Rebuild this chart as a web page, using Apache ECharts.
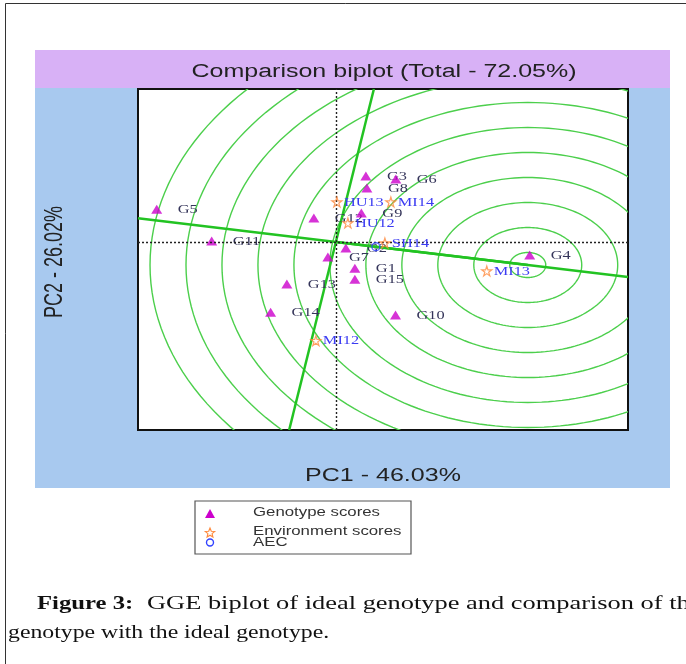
<!DOCTYPE html>
<html>
<head>
<meta charset="utf-8">
<script src="https://cdn.jsdelivr.net/npm/echarts@6/dist/echarts.min.js"></script>
<style>
  html, body { margin: 0; padding: 0; background: #ffffff; }
  #chart { width: 686px; height: 664px; }
</style>
</head>
<body>
<div id="chart"></div>
<script>
// Genotype scores on the first two principal components
const genotypeNames = ['G1', 'G2', 'G3', 'G4', 'G5', 'G6', 'G7', 'G8', 'G9', 'G10', 'G11', 'G12', 'G13', 'G14', 'G15'];
const genotypePC1 = [0.264, 0.139, 0.417, 2.694, -2.490, 0.833, -0.111, 0.431, 0.354, 0.829, -1.726, -0.306, -0.681, -0.907, 0.264];
const genotypePC2 = [-0.526, -0.120, 1.320, -0.260, 0.654, 1.260, -0.300, 1.080, 0.580, -1.460, 0.020, 0.480, -0.840, -1.406, -0.746];

// Environment scores
const environmentNames = ['HU12', 'HU13', 'MI12', 'MI13', 'MI14', 'SH14'];
const environmentPC1 = [0.167, 0.014, -0.278, 2.097, 0.764, 0.681];
const environmentPC2 = [0.380, 0.800, -1.974, -0.580, 0.800, -0.020];

// Average environment coordinate and the ideal genotype on its axis
const aecPoint = [0.556, -0.096];
const idealGenotype = [2.667, -0.460];

// Concentric distance rings around the ideal genotype
const ringRadii = [0.25, 0.75, 1.25, 1.75, 2.25, 2.75, 3.25, 3.75, 4.25, 4.75, 5.25];

// Visible window of the biplot
const pc1Range = [-2.75, 4.06];
const pc2Range = [-3.76, 3.06];

const GREEN_RING = '#4ccf4c';
const GREEN_AXIS = '#22c322';
const MAGENTA = '#cc00cc';
const ORANGE = '#ff8a3d';
const ENV_BLUE = '#3b3bf2';
const GEN_TEXT = '#35355a';
const STAR_PATH = 'path://M50 0 L61.2 34.5 L97.6 34.5 L68.2 55.9 L79.4 90.5 L50 69.1 L20.6 90.5 L31.8 55.9 L2.4 34.5 L38.8 34.5 Z';

// AEC abscissa (through the origin and the AEC point) and its perpendicular
const aecSlope = aecPoint[1] / aecPoint[0];
const abscissaLine = [
  [pc1Range[0], pc1Range[0] * aecSlope],
  [pc1Range[1], pc1Range[1] * aecSlope]
];
const ordinateLine = [
  [-pc2Range[0] * aecSlope, pc2Range[0]],
  [-pc2Range[1] * aecSlope, pc2Range[1]]
];

const ringData = ringRadii.map(r => [idealGenotype[0], idealGenotype[1], r]);
const genotypeData = genotypeNames.map((n, i) => [genotypePC1[i], genotypePC2[i]]);
const environmentData = environmentNames.map((n, i) => [environmentPC1[i], environmentPC2[i]]);

function renderRing(params, api) {
  const cx = api.value(0), cy = api.value(1), r = api.value(2);
  const pts = [];
  for (let a = 0; a <= 360; a += 2) {
    const t = a * Math.PI / 180;
    pts.push(api.coord([cx + r * Math.cos(t), cy + r * Math.sin(t)]));
  }
  const cs = params.coordSys;
  return {
    type: 'polyline',
    shape: { points: pts },
    style: { stroke: GREEN_RING, lineWidth: 1.4, fill: null },
    clipPath: { type: 'rect', shape: { x: cs.x, y: cs.y, width: cs.width, height: cs.height } }
  };
}

function labelRenderer(names, color, offset) {
  return function (params, api) {
    const p = api.coord([api.value(0), api.value(1)]);
    return {
      type: 'text',
      x: p[0] + offset,
      y: p[1] + 0.5,
      scaleX: 1.36,
      style: {
        text: names[params.dataIndex],
        fill: color,
        fontSize: 12,
        fontFamily: 'Liberation Serif',
        align: 'left',
        verticalAlign: 'middle'
      }
    };
  };
}

function starPoints(cx, cy, R, r) {
  const pts = [];
  for (let k = 0; k < 10; k++) {
    const rad = k % 2 === 0 ? R : r;
    const t = -Math.PI / 2 + k * Math.PI / 5;
    pts.push([cx + rad * Math.cos(t), cy + rad * Math.sin(t)]);
  }
  return pts;
}

const sansText = (text, x, y, size, sx, extra) => Object.assign({
  type: 'text', x: x, y: y, scaleX: sx, z: 10,
  style: { text: text, fontSize: size, fontFamily: 'Liberation Sans', fill: '#222', align: 'center', verticalAlign: 'middle' }
}, extra || {});

const legendText = (text, y) => ({
  type: 'text', x: 253, y: y, scaleX: 1.4, z: 11,
  style: { text: text, fontSize: 12, fontFamily: 'Liberation Sans', fill: '#333', align: 'left', verticalAlign: 'middle' }
});

const chart = echarts.init(document.getElementById('chart'), null, { renderer: 'canvas' });

chart.setOption({
  animation: false,
  backgroundColor: '#ffffff',
  grid: {
    left: 138, top: 89, width: 490, height: 341,
    show: true, backgroundColor: '#ffffff', borderColor: '#111111', borderWidth: 2
  },
  xAxis: { type: 'value', min: pc1Range[0], max: pc1Range[1], show: false },
  yAxis: { type: 'value', min: pc2Range[0], max: pc2Range[1], show: false },
  graphic: [
    // page frame
    { type: 'line', z: -20, shape: { x1: 5.5, y1: 3.5, x2: 5.5, y2: 664 }, style: { stroke: '#333', lineWidth: 1 } },
    { type: 'line', z: -20, shape: { x1: 5.5, y1: 3.5, x2: 686, y2: 3.5 }, style: { stroke: '#333', lineWidth: 1 } },
    // title strip and panel background
    { type: 'rect', z: -20, shape: { x: 35, y: 50, width: 635, height: 38 }, style: { fill: '#d8b1f6' } },
    { type: 'rect', z: -20, shape: { x: 35, y: 88, width: 635, height: 400 }, style: { fill: '#a8c9ef' } },
    sansText('Comparison biplot (Total - 72.05%)', 384, 72, 18, 1.39),
    sansText('PC1 - 46.03%', 383, 476, 18, 1.39),
    sansText('PC2 - 26.02%', 55, 262, 18, 1, { rotation: Math.PI / 2, scaleY: 1.39 }),
    // legend
    { type: 'rect', z: 10, shape: { x: 195, y: 501, width: 216, height: 53 }, style: { fill: '#fff', stroke: '#555', lineWidth: 1.2 } },
    { type: 'polygon', z: 11, shape: { points: [[205, 518], [215, 518], [210, 509]] }, style: { fill: MAGENTA } },
    { type: 'polygon', z: 11, shape: { points: starPoints(210, 533, 5, 2.2) }, style: { fill: null, stroke: ORANGE, lineWidth: 1.1 } },
    { type: 'circle', z: 11, shape: { cx: 210, cy: 542.5, r: 3.5 }, style: { fill: null, stroke: '#3344ff', lineWidth: 1.4 } },
    legendText('Genotype scores', 513),
    legendText('Environment scores', 532),
    legendText('AEC', 543),
    // caption
    { type: 'text', z: 10, x: 37, y: 604, scaleX: 1.3,
      style: { text: 'Figure 3:', fontSize: 19, fontWeight: 'bold', fontFamily: 'Liberation Serif', fill: '#111', align: 'left', verticalAlign: 'middle' } },
    { type: 'text', z: 10, x: 147, y: 604, scaleX: 1.39,
      style: { text: 'GGE biplot of ideal genotype and comparison of the', fontSize: 19, fontFamily: 'Liberation Serif', fill: '#111', align: 'left', verticalAlign: 'middle' } },
    { type: 'text', z: 10, x: 8, y: 633, scaleX: 1.25,
      style: { text: 'genotype with the ideal genotype.', fontSize: 19, fontFamily: 'Liberation Serif', fill: '#111', align: 'left', verticalAlign: 'middle' } }
  ],
  series: [
    {
      name: 'Rings', type: 'custom', clip: true, silent: true,
      renderItem: renderRing, data: ringData, z: 1
    },
    {
      name: 'AEC ordinate', type: 'line', data: ordinateLine, showSymbol: false, silent: true,
      lineStyle: { color: GREEN_AXIS, width: 2.5 }, z: 2
    },
    {
      name: 'AEC abscissa', type: 'line', data: abscissaLine, showSymbol: false, silent: true,
      lineStyle: { color: GREEN_AXIS, width: 2.5 }, z: 2,
      markLine: {
        silent: true, animation: false,
        symbol: ['none', 'arrow'], symbolSize: [0, 11],
        label: { show: false },
        lineStyle: { color: GREEN_AXIS, width: 2.5, type: 'solid' },
        data: [[{ coord: [0, 0] }, { coord: idealGenotype }]]
      }
    },
    {
      name: 'Origin', type: 'line', data: [], silent: true, z: 3,
      markLine: {
        silent: true, animation: false, symbol: ['none', 'none'],
        label: { show: false },
        lineStyle: { color: '#222', width: 1.4, type: [2, 2] },
        data: [{ xAxis: 0 }, { yAxis: 0 }]
      }
    },
    {
      name: 'Genotype scores', type: 'scatter', data: genotypeData, z: 4,
      symbol: 'triangle', symbolSize: [11, 9],
      itemStyle: { color: MAGENTA }
    },
    {
      name: 'Genotype labels', type: 'custom', data: genotypeData, z: 4, silent: true,
      renderItem: labelRenderer(genotypeNames, GEN_TEXT, 21)
    },
    {
      name: 'Environment scores', type: 'scatter', data: environmentData, z: 5,
      symbol: STAR_PATH, symbolSize: 10,
      itemStyle: { color: 'rgba(0,0,0,0)', borderColor: ORANGE, borderWidth: 1.2 }
    },
    {
      name: 'Environment labels', type: 'custom', data: environmentData, z: 5, silent: true,
      renderItem: labelRenderer(environmentNames, ENV_BLUE, 7)
    },
    {
      name: 'AEC', type: 'scatter', data: [aecPoint], z: 6,
      symbol: 'circle', symbolSize: 8,
      itemStyle: { color: 'rgba(0,0,0,0)', borderColor: '#3344ff', borderWidth: 1.4 }
    }
  ]
});
</script>
</body>
</html>
